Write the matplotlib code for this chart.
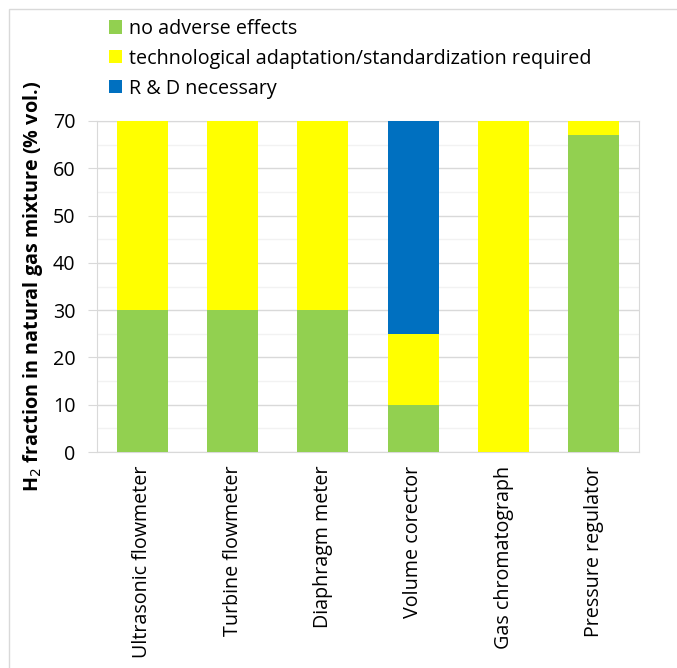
import matplotlib.pyplot as plt
from matplotlib.patches import Rectangle
from matplotlib.ticker import MultipleLocator
import numpy as np

plt.rcParams['font.family'] = ['Open Sans', 'DejaVu Sans']

devices = ["Ultrasonic flowmeter", "Turbine flowmeter", "Diaphragm meter",
           "Volume corector", "Gas chromatograph", "Pressure regulator"]
no_adverse = [30, 30, 30, 10, 0, 67]
adaptation = [40, 40, 40, 15, 70, 3]
r_and_d = [0, 0, 0, 45, 0, 0]

series_names = ["no adverse effects",
                "technological adaptation/standardization required",
                "R & D necessary"]
colors = ["#92D050", "#FFFF00", "#0070C0"]

fs = 14.2
fig = plt.figure(figsize=(6.77, 6.68), dpi=100)
ax = fig.add_axes([97 / 677, 1 - 452 / 668, (639 - 97) / 677, (452 - 121) / 668])

x = np.arange(len(devices))
w = 0.565
bottom = np.zeros(len(devices))
handles = []
for vals, c, name in zip([no_adverse, adaptation, r_and_d], colors, series_names):
    b = ax.bar(x, vals, w, bottom=bottom, color=c, label=name, zorder=3)
    handles.append(b)
    bottom += np.array(vals)

ax.set_xlim(-0.5, len(devices) - 0.5)
ax.set_ylim(0, 70)
ax.yaxis.set_major_locator(MultipleLocator(10))
ax.yaxis.set_minor_locator(MultipleLocator(5))
ax.grid(axis='y', which='major', color='#D9D9D9', lw=1, zorder=0)
ax.grid(axis='y', which='minor', color='#F2F2F2', lw=1, zorder=0)
for s in ax.spines.values():
    s.set_color('#D9D9D9')
ax.tick_params(axis='y', which='major', length=6.5, color='#D9D9D9',
               labelsize=fs, pad=9)
ax.tick_params(axis='y', which='minor', length=0)
ax.set_xticks(x)
ax.set_xticklabels(devices, rotation=90, fontsize=fs)
ax.tick_params(axis='x', length=0, pad=10)

ax.set_ylabel("H$_2$ fraction in natural gas mixture (% vol.)",
              fontsize=fs, fontweight='bold', labelpad=6)

fig.legend(handles=handles, labels=series_names, loc='upper left',
           bbox_to_anchor=(101 / 677, 1 - 11 / 668), frameon=False,
           fontsize=fs, handlelength=0.66, handleheight=0.66,
           handletextpad=0.35, labelspacing=0.5, borderaxespad=0)

# outer chart frame
fig.patches.append(Rectangle((9 / 677, -0.1), 1.2, 1.1 - 9 / 668,
                             transform=fig.transFigure, fill=False,
                             edgecolor='#D9D9D9', lw=1))

fig.savefig("out.png", dpi=100)
